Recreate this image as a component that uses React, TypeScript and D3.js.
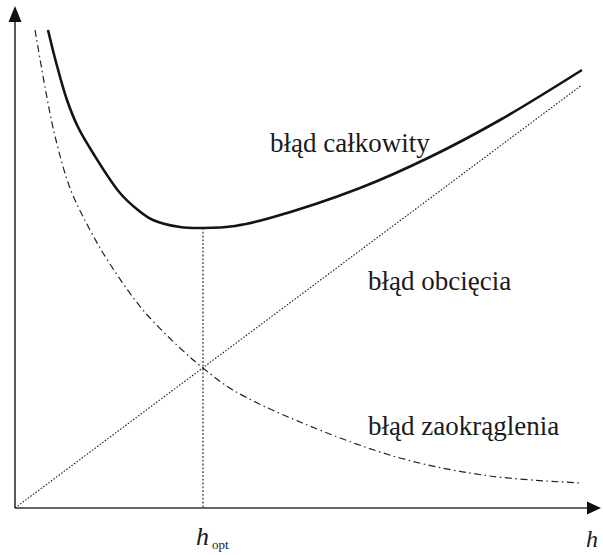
import React from "react";
import * as d3 from "d3";

const truncH = [0, 9.74];
const truncV = [0, 8.46];

const roundH = [0.344, 0.55, 0.687, 0.945, 1.289, 1.632, 2.199, 2.835, 3.23, 3.746, 4.897, 6.615, 8.162, 9.742];
const roundV = [9.56, 8.2, 7.44, 6.4, 5.56, 4.88, 3.96, 3.2, 2.8, 2.36, 1.72, 1.0, 0.64, 0.5];

const totalH = [0.567, 0.704, 0.893, 1.082, 1.34, 1.804, 2.113, 2.371, 2.835, 3.23, 3.78, 4.381, 5.928, 7.131, 8.333, 9.742];
const totalV = [9.56, 8.92, 8.16, 7.62, 7.1, 6.3, 5.96, 5.76, 5.62, 5.6, 5.64, 5.8, 6.4, 7.02, 7.76, 8.76];

const hOpt = 3.23;
const hOptTotal = 5.6;

const labels = ["błąd całkowity", "błąd obcięcia", "błąd zaokrąglenia"];

const W = 603;
const H = 555;

export default function App() {
  const x = d3.scaleLinear().domain([0, 10]).range([15, 597]);
  const y = d3.scaleLinear().domain([0, 10]).range([508, 8]);

  const line = d3
    .line<[number, number]>()
    .x((d) => x(d[0]))
    .y((d) => y(d[1]));

  const smooth = d3
    .line<[number, number]>()
    .x((d) => x(d[0]))
    .y((d) => y(d[1]))
    .curve(d3.curveCatmullRom.alpha(0.5));

  const trunc = truncH.map((h, i) => [h, truncV[i]] as [number, number]);
  const round = roundH.map((h, i) => [h, roundV[i]] as [number, number]);
  const total = totalH.map((h, i) => [h, totalV[i]] as [number, number]);

  const x0 = x(0);
  const y0 = y(0);
  const font = "Liberation Serif, DejaVu Serif, serif";

  return (
    <svg
      width={W}
      height={H}
      style={{ position: "absolute", left: 0, top: 0, background: "#fff" }}
    >
      {/* axes */}
      <line x1={x0} y1={y0} x2={x0} y2={20} stroke="#222" strokeWidth={1.5} />
      <path d={`M${x0},6 L${x0 - 6.5},22 L${x0 + 6.5},22 Z`} fill="#111" />
      <line x1={x0} y1={y0} x2={590} y2={y0} stroke="#333" strokeWidth={1.5} />
      <path d={`M601,${y0} L587,${y0 - 6.5} L587,${y0 + 6.5} Z`} fill="#111" />

      {/* truncation error (dotted) */}
      <path
        d={line(trunc) || ""}
        fill="none"
        stroke="#222"
        strokeWidth={1.1}
        strokeDasharray="1.6,1.6"
      />
      {/* rounding error (dash-dot) */}
      <path
        d={smooth(round) || ""}
        fill="none"
        stroke="#222"
        strokeWidth={1.2}
        strokeDasharray="7,3.5,1.5,3.5"
      />
      {/* total error */}
      <path
        d={smooth(total) || ""}
        fill="none"
        stroke="#141414"
        strokeWidth={2.6}
      />
      {/* vertical h_opt line */}
      <line
        x1={x(hOpt)}
        y1={y(hOptTotal)}
        x2={x(hOpt)}
        y2={y0}
        stroke="#333"
        strokeWidth={1.3}
        strokeDasharray="1.8,2"
      />

      <g fontFamily={font} fontSize={27} fill="#1a1a1a">
        <text x={270} y={152}>{labels[0]}</text>
        <text x={368} y={290}>{labels[1]}</text>
        <text x={368} y={435}>{labels[2]}</text>
      </g>

      <text x={196} y={545} fontFamily={font} fontSize={26} fontStyle="italic" fill="#1a1a1a">
        h
      </text>
      <text x={212} y={549} fontFamily={font} fontSize={13} fill="#1a1a1a">
        opt
      </text>
      <text x={586} y={547} fontFamily={font} fontSize={24} fontStyle="italic" fill="#1a1a1a">
        h
      </text>
    </svg>
  );
}
